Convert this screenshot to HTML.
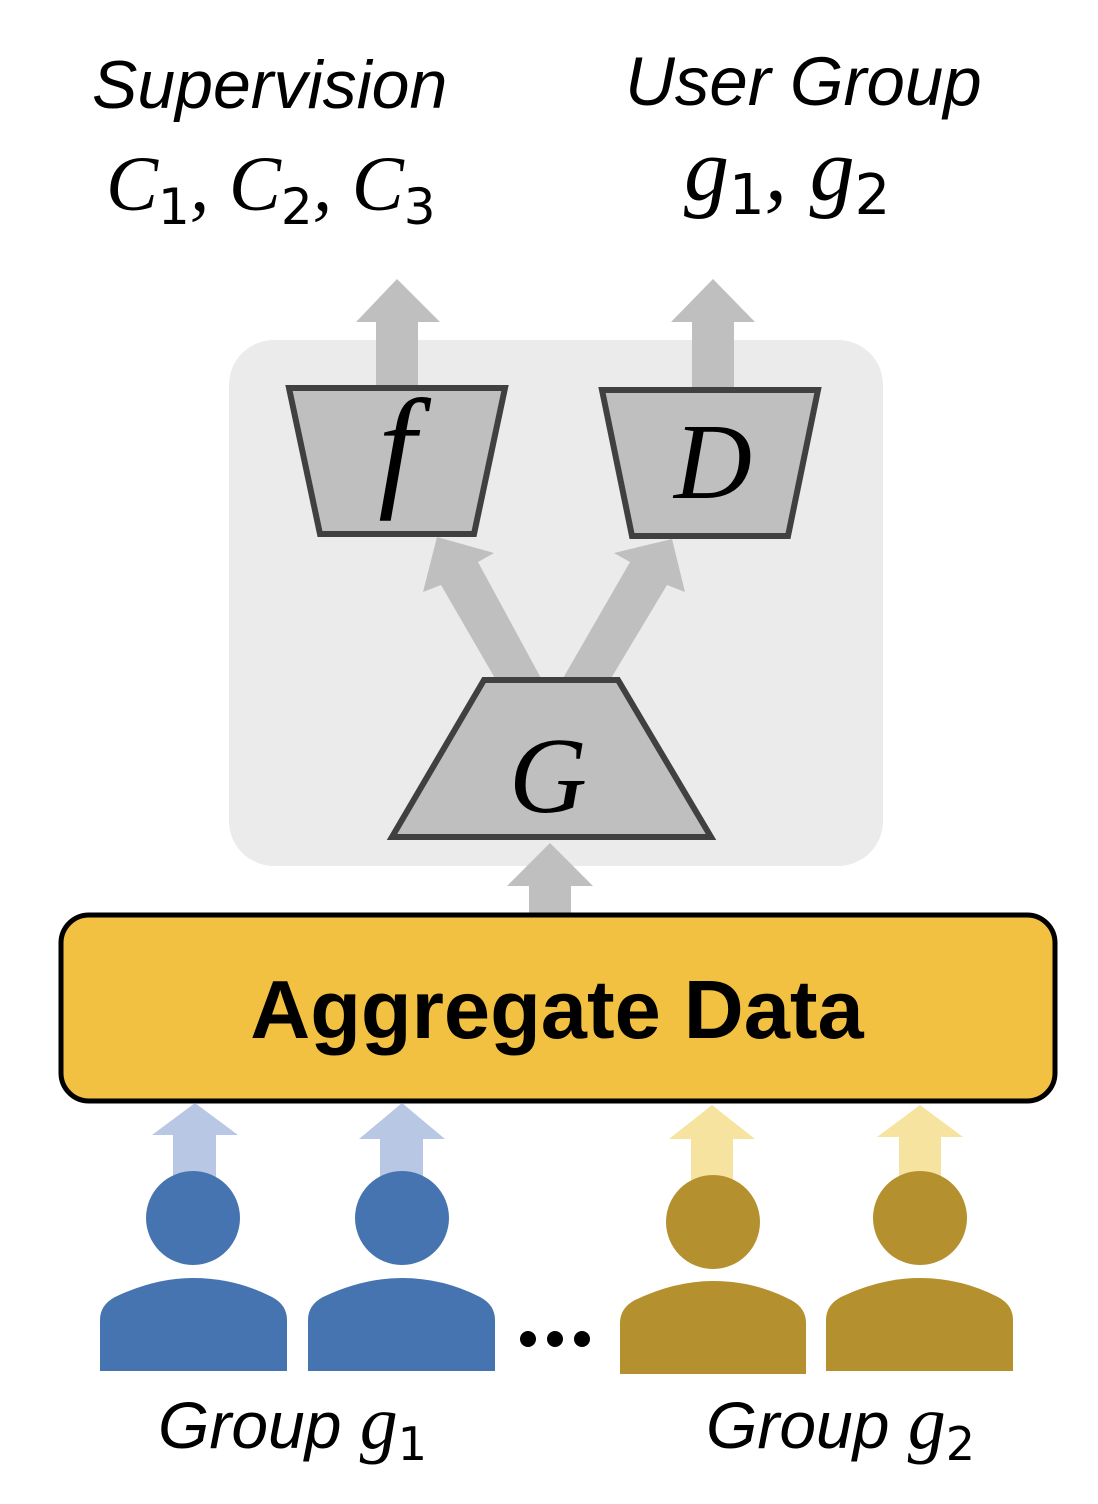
<!DOCTYPE html>
<html><head><style>body{margin:0;background:#fff}svg{display:block}</style></head><body>
<svg width="1098" height="1504" viewBox="0 0 1098 1504" xmlns="http://www.w3.org/2000/svg">
<text x="92" y="108" font-family="Liberation Sans, sans-serif" font-style="italic" font-size="68">Supervision</text>
<text x="625" y="105" font-family="Liberation Sans, sans-serif" font-style="italic" font-size="69">User Group</text>
<text x="106" y="210" font-family="Liberation Serif, serif" font-style="italic" font-size="78">C<tspan font-style="normal" font-family="DejaVu Sans, sans-serif" font-size="50" dy="14">1</tspan><tspan dy="-14">, C</tspan><tspan font-style="normal" font-family="DejaVu Sans, sans-serif" font-size="50" dy="14">2</tspan><tspan dy="-14">, C</tspan><tspan font-style="normal" font-family="DejaVu Sans, sans-serif" font-size="50" dy="14">3</tspan></text>
<text x="684" y="200" font-family="Liberation Serif, serif" font-style="italic" font-size="90">g<tspan font-style="normal" font-family="DejaVu Sans, sans-serif" font-size="56" dy="14">1</tspan><tspan dy="-14">, g</tspan><tspan font-style="normal" font-family="DejaVu Sans, sans-serif" font-size="56" dy="14">2</tspan></text>
<rect x="229" y="340" width="654" height="526" rx="45" fill="#ebebeb"/>
<g fill="#bfbfbf">
<polygon points="397,279 440,322 418,322 418,390 376,390 376,322 356,322"/>
<polygon points="713,279 755,322 734,322 734,392 692,392 692,322 671,322"/>
<polygon points="550,843 593,886 571,886 571,915 529,915 529,886 507,886"/>
<polygon points="437,537 494,553 478,562 542,680 496,680 441,585 423,592"/>
<polygon points="672,539 685,592 667,585 610,680 562,680 630,562 614,553"/>
</g>
<g fill="#bfbfbf" stroke="#404040" stroke-width="6">
<polygon points="289,388 505,388 474,534 320,534"/>
<polygon points="602,390 818,390 788,536 632,536"/>
<polygon points="484,680 618,680 711,837 392,837"/>
</g>
<text x="397" y="492" text-anchor="middle" font-family="Liberation Serif, serif" font-style="italic" font-size="135">f</text>
<text x="713" y="498" text-anchor="middle" font-family="Liberation Serif, serif" font-style="italic" font-size="108">D</text>
<text x="548" y="812" text-anchor="middle" font-family="Liberation Serif, serif" font-style="italic" font-size="108">G</text>
<rect x="61" y="915" width="994" height="186" rx="28" fill="#f2c142" stroke="#000" stroke-width="5"/>
<text x="557" y="1038" text-anchor="middle" font-family="Liberation Sans, sans-serif" font-weight="bold" font-size="83">Aggregate Data</text>
<g fill="#b7c7e4">
<polygon points="195,1103 238,1135 216,1135 216,1180 173,1180 173,1135 152,1135"/>
<polygon points="402,1103 445,1139 423,1139 423,1180 380,1180 380,1139 359,1139"/>
</g>
<g fill="#f7e3a0">
<polygon points="712,1105 755,1139 733,1139 733,1185 691,1185 691,1139 669,1139"/>
<polygon points="920,1105 963,1137 941,1137 941,1180 899,1180 899,1137 877,1137"/>
</g>
<g fill="#4674b0">
<circle cx="193" cy="1218" r="47"/>
<path d="M100,1371 V1320 Q100,1305 115,1297 Q155,1278 193,1278 Q235,1278 272,1297 Q287,1305 287,1320 V1371 Z"/>
<circle cx="402" cy="1218" r="47"/>
<path d="M308,1371 V1320 Q308,1305 323,1297 Q363,1278 402,1278 Q443,1278 480,1297 Q495,1305 495,1320 V1371 Z"/>
</g>
<g fill="#b5902f">
<circle cx="713" cy="1222" r="47"/>
<path d="M620,1374 V1323 Q620,1308 635,1300 Q675,1281 713,1281 Q755,1281 791,1300 Q806,1308 806,1323 V1374 Z"/>
<circle cx="920" cy="1218" r="47"/>
<path d="M826,1371 V1320 Q826,1305 841,1297 Q881,1278 920,1278 Q961,1278 998,1297 Q1013,1305 1013,1320 V1371 Z"/>
</g>
<g fill="#000"><circle cx="528" cy="1339" r="8"/><circle cx="555" cy="1339" r="8"/><circle cx="582" cy="1339" r="8"/></g>
<text x="158" y="1448" font-family="Liberation Sans, sans-serif" font-style="italic" font-size="66">Group <tspan font-family="Liberation Serif, serif" font-size="76">g</tspan><tspan font-style="normal" font-family="DejaVu Sans, sans-serif" font-size="46" dy="12">1</tspan></text>
<text x="706" y="1448" font-family="Liberation Sans, sans-serif" font-style="italic" font-size="66">Group <tspan font-family="Liberation Serif, serif" font-size="76">g</tspan><tspan font-style="normal" font-family="DejaVu Sans, sans-serif" font-size="46" dy="12">2</tspan></text>
</svg>
</body></html>
